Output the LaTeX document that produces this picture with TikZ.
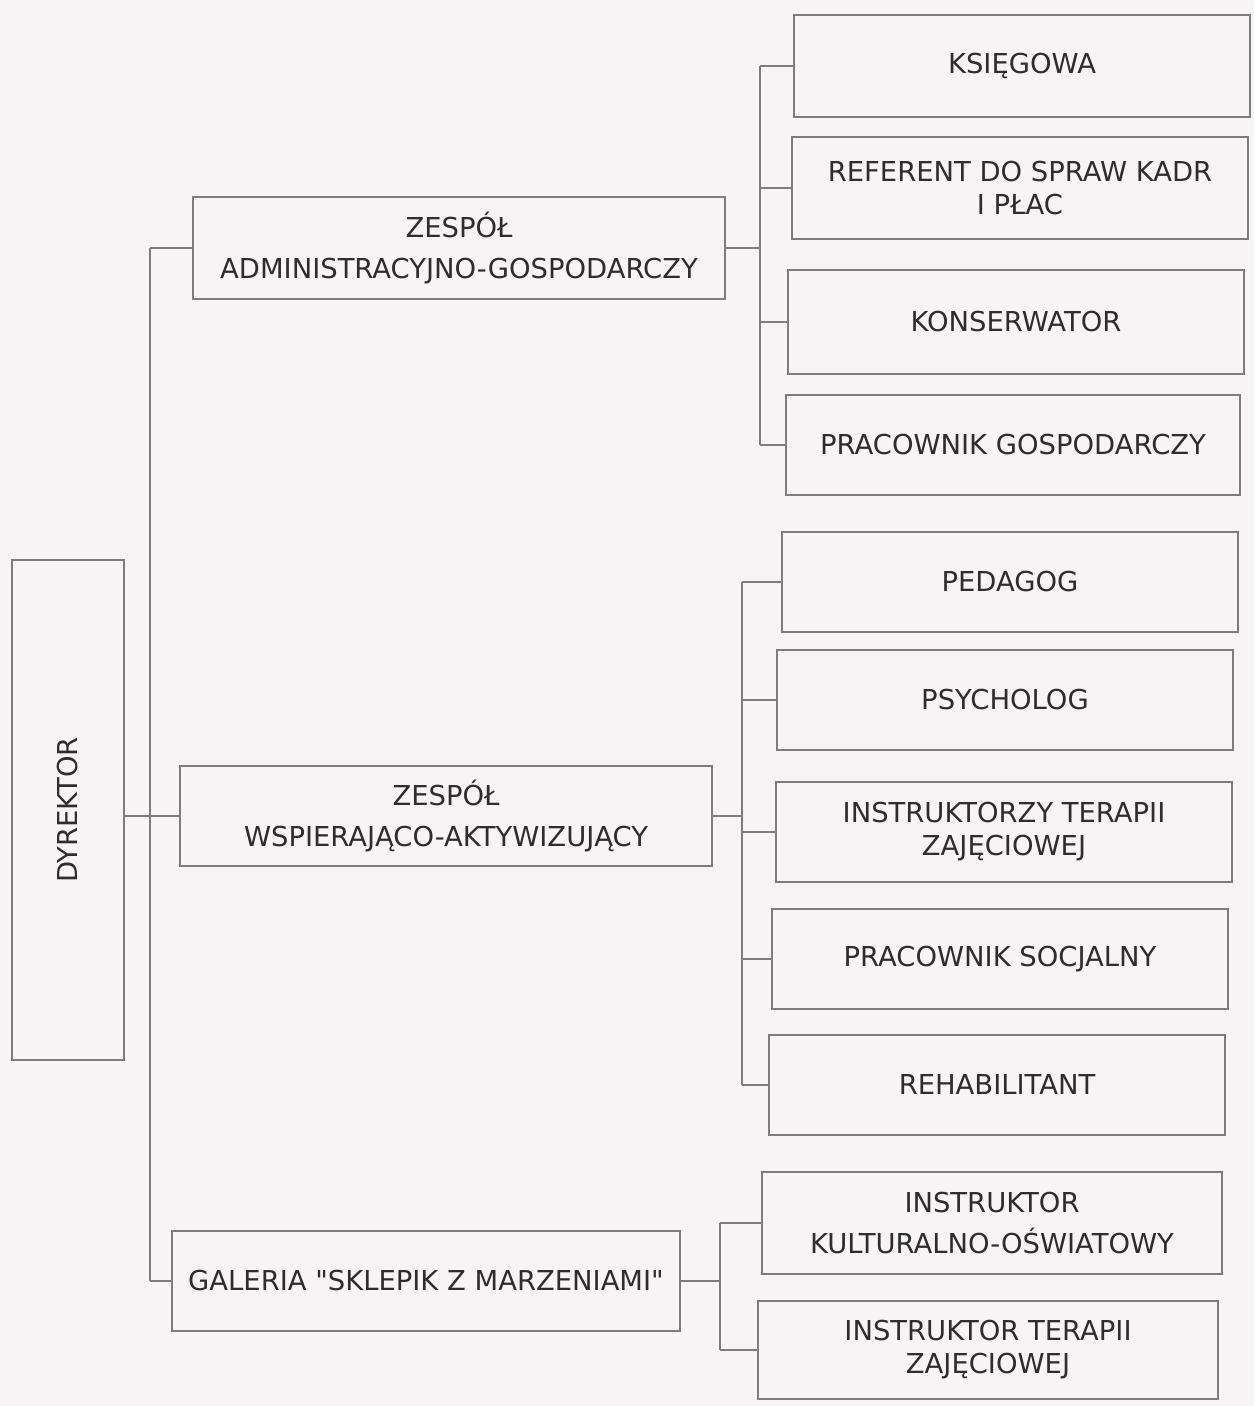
\documentclass[tikz,border=0pt]{standalone}
\usepackage{fontspec}
\setmainfont{DejaVu Sans}
\definecolor{paper}{RGB}{246,244,244}
\definecolor{linec}{RGB}{125,125,125}
\definecolor{textc}{RGB}{45,45,45}
\begin{document}
\begin{tikzpicture}[x=0.5pt,y=-0.5pt,
  box/.style={draw=linec, line width=1.1pt, fill=paper, rectangle, inner sep=0pt,
    align=center, text=textc, font=\fontsize{13.7}{16.5}\selectfont},
  conn/.style={draw=linec, line width=0.8pt}]
\fill[paper] (0,0) rectangle (1254,1406);
\useasboundingbox (0,0) rectangle (1254,1406);

% left column
\node[box, minimum width=56pt, minimum height=250pt] (dyr) at (68,810) {\rotatebox{90}{DYREKTOR}};
\node[box, minimum width=266pt, minimum height=51pt] (adm) at (459,248) {ZESPÓŁ\\[4pt]ADMINISTRACYJNO-GOSPODARCZY};
\node[box, minimum width=266pt, minimum height=50pt] (wsp) at (446,816) {ZESPÓŁ\\[4pt]WSPIERAJĄCO-AKTYWIZUJĄCY};
\node[box, minimum width=254pt, minimum height=50pt] (gal) at (426,1281) {GALERIA \textquotedbl SKLEPIK Z MARZENIAMI\textquotedbl};

% right column: administrative
\node[box, minimum width=228pt, minimum height=51pt] (k1) at (1022,66) {KSIĘGOWA};
\node[box, minimum width=228pt, minimum height=51pt] (k2) at (1020,188) {REFERENT DO SPRAW KADR\\I PŁAC};
\node[box, minimum width=228pt, minimum height=52pt] (k3) at (1016,322) {KONSERWATOR};
\node[box, minimum width=227pt, minimum height=50pt] (k4) at (1013,445) {PRACOWNIK GOSPODARCZY};

% right column: support
\node[box, minimum width=228pt, minimum height=50pt] (w1) at (1010,582) {PEDAGOG};
\node[box, minimum width=228pt, minimum height=50pt] (w2) at (1005,700) {PSYCHOLOG};
\node[box, minimum width=228pt, minimum height=50pt] (w3) at (1004,832) {INSTRUKTORZY TERAPII\\ZAJĘCIOWEJ};
\node[box, minimum width=228pt, minimum height=50pt] (w4) at (1000,959) {PRACOWNIK SOCJALNY};
\node[box, minimum width=228pt, minimum height=50pt] (w5) at (997,1085) {REHABILITANT};

% right column: gallery
\node[box, minimum width=230pt, minimum height=51pt] (g1) at (992,1223) {INSTRUKTOR\\[4pt]KULTURALNO-OŚWIATOWY};
\node[box, minimum width=230pt, minimum height=49pt] (g2) at (988,1350) {INSTRUKTOR TERAPII\\ZAJĘCIOWEJ};

% bus coordinates
\coordinate (t) at (150,816);
\coordinate (ba) at (760,248);
\coordinate (bw) at (742,816);
\coordinate (bg) at (720,1281);

% director trunk
\draw[conn] (dyr.east |- wsp.west) -- (wsp.west);
\draw[conn] (t |- adm.west) -- (t |- gal.west);
\draw[conn] (t |- adm.west) -- (adm.west);
\draw[conn] (t |- gal.west) -- (gal.west);

% administrative bus
\draw[conn] (adm.east) -- (ba);
\draw[conn] (ba |- k1.west) -- (ba |- k4.west);
\foreach \n in {k1,k2,k3,k4} \draw[conn] (ba |- \n.west) -- (\n.west);

% support bus
\draw[conn] (wsp.east) -- (bw);
\draw[conn] (bw |- w1.west) -- (bw |- w5.west);
\foreach \n in {w1,w2,w3,w4,w5} \draw[conn] (bw |- \n.west) -- (\n.west);

% gallery bus
\draw[conn] (gal.east) -- (bg);
\draw[conn] (bg |- g1.west) -- (bg |- g2.west);
\foreach \n in {g1,g2} \draw[conn] (bg |- \n.west) -- (\n.west);
\end{tikzpicture}
\end{document}
